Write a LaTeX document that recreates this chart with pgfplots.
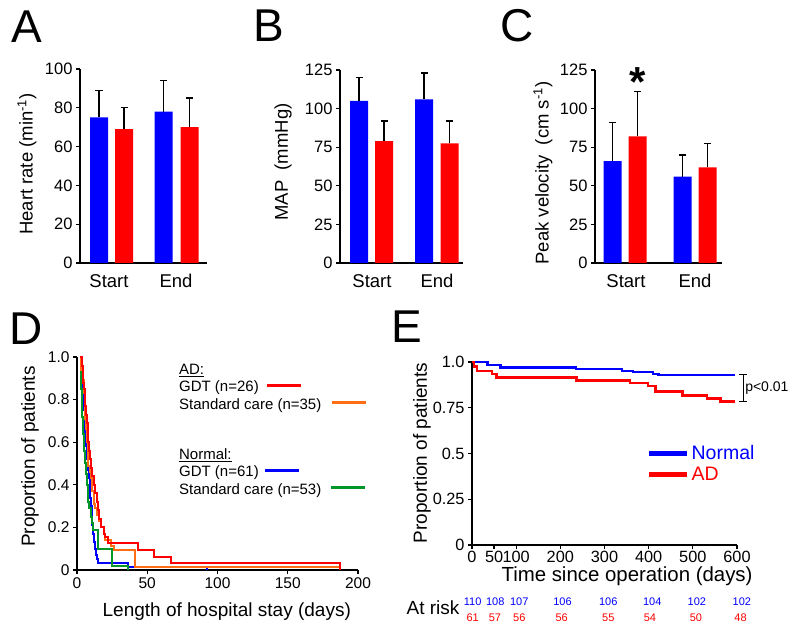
\documentclass[border=0pt]{standalone}
\usepackage{pgfplots}
\pgfplotsset{compat=1.18}
\usepackage{fontspec}
\setmainfont{Liberation Sans}
\definecolor{kmorange}{RGB}{255,110,20}
\definecolor{kmgreen}{RGB}{0,150,40}
\newcommand{\fs}[1]{\fontsize{#1bp}{#1bp}\selectfont}
\pgfplotsset{
  base/.style={
    scale only axis,
    anchor=south west,
    axis lines=left,
    axis line style={-, line width=1.2bp},
    tick align=outside,
    major tick length=4bp,
    tick style={line width=1.2bp, black},
    /pgf/number format/assume math mode=true,
    tick label style={font=\fs{16.5}},
    label style={font=\fs{18.5}},
    clip=false,
  },
  barax/.style={base,
    xmin=0, ymin=0,
    xtick style={draw=none},
    xticklabels={Start,End},
    xticklabel style={font=\fs{18.5}, yshift=-4bp},
  },
  errb/.style={error bars/.cd, y dir=plus, y explicit,
    error bar style={draw=black, line width=1.2bp},
    error mark options={draw=black, rotate=90, mark size=3.5bp, line width=1.2bp}},
}
\begin{document}
\begin{tikzpicture}
\path[use as bounding box] (0,0) rectangle (800bp,628bp);
% panel letters
\node[anchor=base west, inner sep=0, font=\fs{46}] at (11bp,585bp) {A};
\node[anchor=base west, inner sep=0, font=\fs{46}] at (253.5bp,586bp) {B};
\node[anchor=base west, inner sep=0, font=\fs{46}] at (500.7bp,586bp) {C};
\node[anchor=base west, inner sep=0, font=\fs{46}] at (9.4bp,283bp) {D};
\node[anchor=base west, inner sep=0, font=\fs{46}] at (391bp,285bp) {E};

% ---------------- A
\begin{axis}[barax, at={(80bp,365bp)}, width=127bp, height=194bp,
  xmax=127, ymax=100, xtick={29,96}, ytick={0,20,40,60,80,100},
  ylabel={Heart rate (min\textsuperscript{-1})},
  ylabel style={at={(axis description cs:-0.417,0.51)}, anchor=center}]
\addplot[ybar, bar width=18, bar shift=0pt, fill=blue, draw=none, errb]
  coordinates {(19,75) +- (0,14) (83.5,78) +- (0,16)};
\addplot[ybar, bar width=18, bar shift=0pt, fill=red, draw=none, errb]
  coordinates {(44,69) +- (0,11) (109.5,70) +- (0,15)};
\end{axis}

% ---------------- B
\begin{axis}[barax, at={(340bp,365bp)}, width=123bp, height=193bp,
  xmax=123, ymax=125, xtick={32,97}, ytick={0,25,50,75,100,125},
  ylabel={MAP\ \ (mmHg)},
  ylabel style={at={(axis description cs:-0.463,0.523)}, anchor=center}]
\addplot[ybar, bar width=18, bar shift=0pt, fill=blue, draw=none, errb]
  coordinates {(19,105) +- (0,15) (84,106) +- (0,17)};
\addplot[ybar, bar width=18, bar shift=0pt, fill=red, draw=none, errb]
  coordinates {(44,79) +- (0,13) (109.5,77.5) +- (0,14.5)};
\end{axis}

% ---------------- C
\begin{axis}[barax, at={(595bp,365bp)}, width=127bp, height=193bp,
  xmax=127, ymax=125, xtick={31,100}, ytick={0,25,50,75,100,125},
  ylabel={Peak velocity\ \ (cm s\textsuperscript{-1})},
  ylabel style={at={(axis description cs:-0.409,0.466)}, anchor=center}]
\addplot[ybar, bar width=18, bar shift=0pt, fill=blue, draw=none, errb]
  coordinates {(17.5,66) +- (0,25) (87.5,56) +- (0,14)};
\addplot[ybar, bar width=18, bar shift=0pt, fill=red, draw=none, errb]
  coordinates {(42.5,82) +- (0,29) (112.5,62) +- (0,15.5)};
\node[anchor=north, inner sep=0, font=\fs{42}\bfseries] at (axis cs:42.5,127) {*};
\end{axis}

% ---------------- D
\begin{axis}[base, at={(77bp,58bp)}, width=281bp, height=213bp,
  xmin=0, xmax=200, ymin=0, ymax=1,
  xtick={0,50,100,150,200}, ytick={0,0.2,0.4,0.6,0.8,1},
  yticklabels={0,0.2,0.4,0.6,0.8,1.0},
  tick label style={font=\fs{15.5}},
  xlabel={Length of hospital stay (days)},
  ylabel={Proportion of patients},
  xlabel style={at={(axis description cs:0.533,-0.195)}, anchor=center, font=\fs{19}},
  ylabel style={at={(axis description cs:-0.167,0.532)}, anchor=center, font=\fs{19}},
  legend image code/.code={},
  legend style={at={(axis cs:71.5,0.975)}, anchor=north west, draw=none, fill=none,
    font=\fontsize{15bp}{14.3bp}\selectfont, inner sep=0pt, nodes={inner sep=1.5bp},
    row sep=2bp, cells={anchor=west}},
  ]
\addplot[const plot, blue, line width=2bp, forget plot] coordinates {
(2,1)(3,0.95)(3.5,0.9)(4,0.85)(4.5,0.8)(5,0.75)(5.5,0.7)(6,0.64)(6.5,0.58)(7,0.52)(8,0.47)(8.5,0.43)(9,0.38)(9.5,0.34)(10,0.3)(10.5,0.25)(11,0.21)(11.5,0.17)(12,0.13)(13,0.1)(13.5,0.07)(14,0.05)(15,0.033)(36,0.016)(92.5,0)};
\addplot[const plot, kmgreen, line width=2bp, forget plot] coordinates {
(2,1)(3,0.85)(3.3,0.72)(4,0.64)(5,0.56)(5.7,0.5)(6.3,0.45)(6.9,0.4)(7.5,0.36)(8,0.32)(8.5,0.29)(9.7,0.25)(10.5,0.22)(11.6,0.19)(15,0.097)(24.7,0.019)(36.5,0)};
\addplot[const plot, kmorange, line width=2bp, forget plot] coordinates {
(2,1)(3,0.94)(4,0.89)(5,0.83)(5.5,0.77)(6,0.71)(6.5,0.66)(7,0.6)(7.5,0.54)(8,0.49)(9,0.46)(10,0.43)(11,0.37)(12,0.31)(13,0.29)(14,0.26)(16,0.23)(17,0.2)(19,0.17)(20,0.14)(24,0.115)(26,0.095)(41,0.016)(187,0)};
\addplot[const plot, red, line width=2bp, forget plot] coordinates {
(2,1)(3.5,0.96)(4,0.92)(4.5,0.88)(5,0.85)(5.5,0.8)(6,0.77)(6.5,0.73)(7,0.69)(7.5,0.65)(8,0.6)(8.5,0.56)(9,0.52)(10,0.48)(11,0.44)(12,0.4)(13,0.36)(14,0.32)(15,0.28)(16,0.24)(17,0.2)(19,0.17)(20,0.155)(22,0.125)(43.5,0.094)(55,0.062)(67,0.031)(187,0)};
\addlegendimage{draw=none}\addlegendentry{\strut\underline{AD:}}
\addlegendimage{draw=none}\addlegendentry{\strut GDT (n=26)\hspace{8bp}\textcolor{red}{\rule[5bp]{34bp}{3bp}}}
\addlegendimage{draw=none}\addlegendentry{\strut Standard care (n=35)\hspace{11bp}\textcolor{kmorange}{\rule[5bp]{34bp}{3bp}}}
\addlegendimage{draw=none}\addlegendentry{\strut}
\addlegendimage{draw=none}\addlegendentry{\strut}
\addlegendimage{draw=none}\addlegendentry{\strut\underline{Normal:}}
\addlegendimage{draw=none}\addlegendentry{\strut GDT (n=61)\hspace{6bp}\textcolor{blue}{\rule[5bp]{34bp}{3bp}}}
\addlegendimage{draw=none}\addlegendentry{\strut Standard care (n=53)\hspace{10bp}\textcolor{kmgreen}{\rule[5bp]{34bp}{3bp}}}
\end{axis}

% ---------------- E
\begin{axis}[base, at={(472bp,83bp)}, width=265bp, height=183bp,
  xmin=0, xmax=600, ymin=0, ymax=1,
  xtick={0,50,100,200,300,400,500,600}, ytick={0,0.25,0.5,0.75,1},
  yticklabels={0,0.25,0.5,0.75,1.0},
  tick label style={font=\fs{16.3}},
  xticklabel style={inner sep=1.5bp},
  xlabel={Time since operation (days)},
  ylabel={Proportion of patients},
  xlabel style={at={(axis description cs:0.585,-0.172)}, anchor=center, font=\fs{20.4}, inner sep=1bp},
  ylabel style={at={(axis description cs:-0.189,0.503)}, anchor=center, font=\fs{19}},
  legend image code/.code={\draw[line width=5bp] (-3bp,0bp) -- (35bp,0bp);},
  legend style={at={(axis cs:395,0.555)}, anchor=north west, draw=none, fill=none,
    font=\fs{19.5}, inner sep=0pt, nodes={inner sep=2bp}, row sep=2bp, cells={anchor=west}},
  ]
\addplot[const plot, blue, line width=2.5bp] coordinates {
(0,1)(35,0.984)(65,0.971)(235,0.962)(340,0.952)(365,0.944)(410,0.935)(422,0.929)(595,0.929)};
\addlegendentry{\textcolor{blue}{Normal}}
\addplot[const plot, red, line width=2.5bp] coordinates {
(0,1)(5,0.975)(11,0.95)(45,0.934)(56,0.916)(237,0.9)(358,0.885)(399,0.868)(416,0.84)(477,0.818)(532,0.8)(563,0.783)(595,0.783)};
\addlegendentry{\textcolor{red}{AD}}
\draw[line width=1bp] (axis cs:614,0.929) -- (axis cs:614,0.783);
\draw[line width=1bp] ([xshift=-4bp]axis cs:614,0.929) -- ([xshift=4bp]axis cs:614,0.929);
\draw[line width=1bp] ([xshift=-4bp]axis cs:614,0.783) -- ([xshift=4bp]axis cs:614,0.783);
\node[anchor=west, font=\fs{14}, inner sep=1bp] at (axis cs:616,0.856) {p<0.01};
\node[font=\fs{19}] at (axis cs:-88.3,-0.344) {At risk};
\begin{scope}[every node/.style={font=\fs{11}, text=blue, inner sep=0}]
\node at (axis cs:1.6,-0.31) {110};
\node at (axis cs:52.7,-0.31) {108};
\node at (axis cs:107,-0.31) {107};
\node at (axis cs:205,-0.31) {106};
\node at (axis cs:308.6,-0.31) {106};
\node at (axis cs:408,-0.31) {104};
\node at (axis cs:509,-0.31) {102};
\node at (axis cs:611,-0.31) {102};
\end{scope}
\begin{scope}[every node/.style={font=\fs{11}, text=red, inner sep=0}]
\node at (axis cs:1.6,-0.395) {61};
\node at (axis cs:52,-0.395) {57};
\node at (axis cs:107,-0.395) {56};
\node at (axis cs:203,-0.395) {56};
\node at (axis cs:308.6,-0.395) {55};
\node at (axis cs:403,-0.395) {54};
\node at (axis cs:507,-0.395) {50};
\node at (axis cs:608,-0.395) {48};
\end{scope}
\end{axis}
\end{tikzpicture}
\end{document}
